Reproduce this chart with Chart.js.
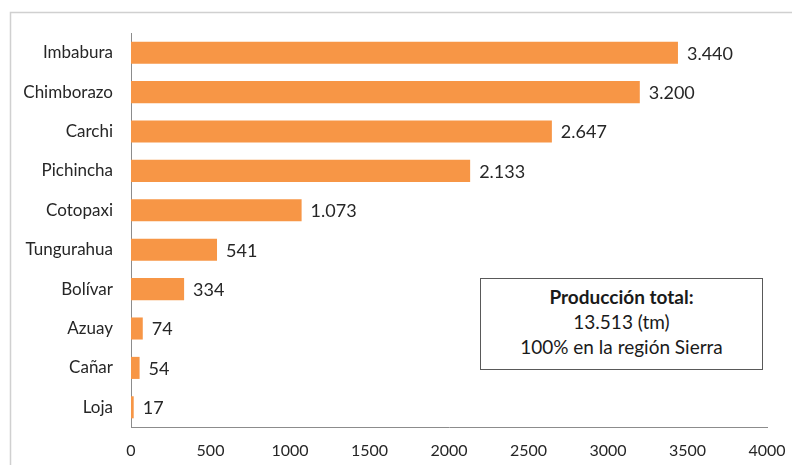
<!DOCTYPE html>
<html><head><meta charset="utf-8">
<script src="https://cdn.jsdelivr.net/npm/chart.js@4/dist/chart.umd.min.js"></script>
<style>
html,body{margin:0;padding:0;background:#fff;}
#wrap{position:relative;width:792px;height:465px;}
#note{position:absolute;left:480px;top:278px;width:283px;height:92px;border:1px solid #595959;box-sizing:border-box;background:#fff;
font-family:Lato,"Open Sans",sans-serif;font-size:19px;color:#1a1a1a;text-align:center;line-height:25px;padding-top:5px;}
#note b{font-weight:bold;}
</style></head>
<body><div id="wrap"><canvas id="c" width="792" height="465"></canvas>
<div id="note"><b>Producción total:</b><br>13.513 (tm)<br>100% en la región Sierra</div></div>
<script>
const provincias = ["Imbabura","Chimborazo","Carchi","Pichincha","Cotopaxi","Tungurahua","Bolívar","Azuay","Cañar","Loja"];
const produccion = [3440,3200,2647,2133,1073,541,334,74,54,17];
const xTicks = [0,500,1000,1500,2000,2500,3000,3500,4000];

const FONT = 'Lato, "Open Sans", sans-serif';
const fmt = v => v.toLocaleString('de-DE');

const frame = {
  id:'frame',
  beforeDraw(ch){
    const c=ch.ctx; c.save(); c.strokeStyle='#d0d0d0'; c.lineWidth=1.5;
    c.strokeRect(10.5,12.5,900,600); c.restore();
  }
};
const valueLabels = {
  id:'valueLabels',
  afterDatasetsDraw(ch){
    const c=ch.ctx; const meta=ch.getDatasetMeta(0);
    c.save(); c.font='18px '+FONT; c.fillStyle='#262626'; c.textBaseline='middle'; c.textAlign='left';
    meta.data.forEach((b,i)=>{ c.fillText(fmt(produccion[i]), b.x+9, b.y+1); });
    c.restore();
  }
};

new Chart(document.getElementById('c'),{
  type:'bar',
  data:{labels:provincias,datasets:[{data:produccion,backgroundColor:'#F79646',borderWidth:0,categoryPercentage:0.56,barPercentage:1}]},
  options:{
    indexAxis:'y',responsive:false,animation:false,
    layout:{padding:{top:33,right:25,left:0,bottom:0}},
    plugins:{legend:{display:false},tooltip:{enabled:false}},
    scales:{
      x:{min:0,max:4000,afterBuildTicks(s){s.ticks=xTicks.map(v=>({value:v}));},
        grid:{display:false,drawTicks:false},border:{display:true,color:'#8c8c8c',width:1},
        ticks:{font:{family:FONT,size:16},color:'#262626',padding:14,callback:v=>String(v)},
        afterFit(s){s.height=38;s.paddingRight=0;s.paddingLeft=0;}},
      y:{grid:{display:false,drawTicks:false},border:{display:true,color:'#8c8c8c',width:1},
        ticks:{font:{family:FONT,size:17},color:'#262626',padding:18},
        afterFit(s){s.width=131;s.paddingTop=0;s.paddingBottom=0;}}
    }
  },
  plugins:[frame,valueLabels]
});
</script></body></html>
